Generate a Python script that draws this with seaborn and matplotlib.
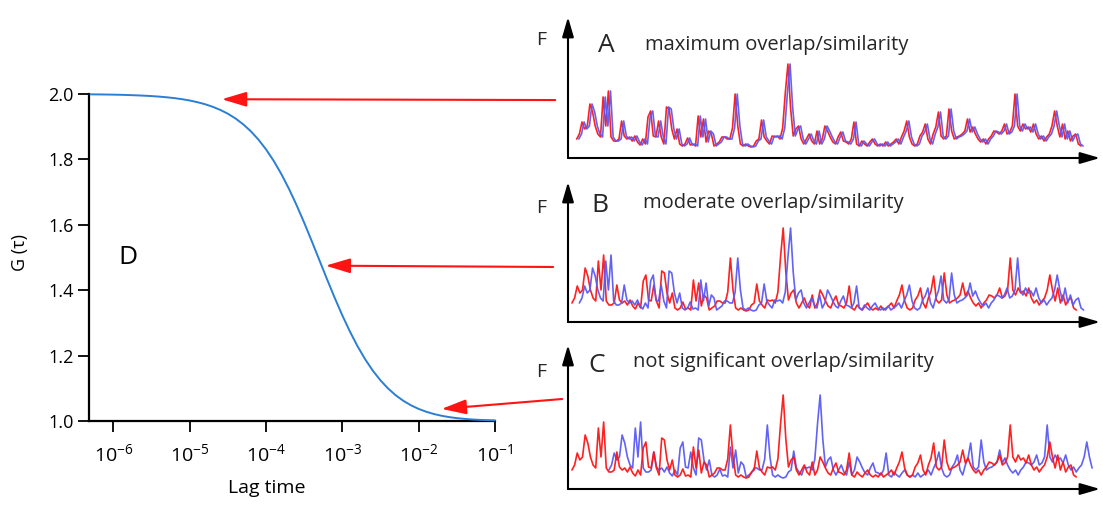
import matplotlib
matplotlib.use("Agg")
import numpy as np
import pandas as pd
import matplotlib.pyplot as plt
import seaborn as sns
from matplotlib.ticker import FixedLocator, NullLocator, FuncFormatter

# ---- autocorrelation curve G(tau) -------------------------------------
lag_exponent = [-6.3, -6.2, -6.1, -6.0, -5.9, -5.8, -5.7, -5.6, -5.5, -5.4,
                -5.3, -5.2, -5.1, -5.0, -4.9, -4.8, -4.7, -4.6, -4.5, -4.4,
                -4.3, -4.2, -4.1, -4.0, -3.9, -3.8, -3.7, -3.6, -3.5, -3.4,
                -3.3, -3.2, -3.1, -3.0, -2.9, -2.8, -2.7, -2.6, -2.5, -2.4,
                -2.3, -2.2, -2.1, -2.0, -1.9, -1.8, -1.7, -1.6, -1.5, -1.4,
                -1.3, -1.2, -1.1, -1.0]
g_tau = [1.9990, 1.9987, 1.9984, 1.9980, 1.9975, 1.9968, 1.9959, 1.9949, 1.9936, 1.9920,
         1.9899, 1.9874, 1.9841, 1.9801, 1.9750, 1.9688, 1.9610, 1.9514, 1.9396, 1.9251,
         1.9074, 1.8861, 1.8606, 1.8305, 1.7956, 1.7553, 1.7101, 1.6601, 1.6062, 1.5494,
         1.4912, 1.4330, 1.3764, 1.3227, 1.2731, 1.2281, 1.1883, 1.1536, 1.1241, 1.0992,
         1.0785, 1.0616, 1.0479, 1.0369, 1.0282, 1.0213, 1.0160, 1.0119, 1.0088, 1.0065,
         1.0047, 1.0034, 1.0025, 1.0018]

# ---- fluorescence trace F(t), channel 1; channel 2 is the same trace delayed
trace_red = [19, 24, 36, 29, 32, 54, 46, 32, 24, 21,
             61, 32, 67, 21, 17, 17, 19, 37, 22, 19,
             21, 17, 22, 16, 13, 19, 14, 41, 47, 22,
             21, 37, 21, 14, 51, 49, 29, 19, 29, 14,
             12, 14, 20, 13, 14, 12, 42, 21, 39, 16,
             27, 24, 12, 14, 16, 21, 21, 19, 19, 30,
             64, 32, 14,
             12, 14, 12, 11, 12, 17, 19, 38, 21, 17,
             14, 22, 21, 22, 19, 30, 65, 94, 50, 22,
             29, 32, 19, 14, 19, 24, 17, 14, 27, 14,
             19, 32, 27, 21, 16, 14, 21, 26, 17, 16,
             14, 19, 36, 14, 12, 17, 14, 12, 16, 19,
             14, 12, 14, 12, 16, 12, 14, 16, 19, 14,
             21, 27, 37, 21, 14, 12, 14,
             22, 26, 34, 19, 14, 24, 31, 46, 22, 19,
             22, 49, 27, 19, 21, 22, 24, 27, 39, 26,
             31, 24, 19, 16, 19, 14, 19, 22, 27, 26,
             24, 27, 34, 24, 26, 32, 64, 32, 27, 34,
             29, 31, 26, 34, 24, 19, 22, 17, 21, 24,
             32, 47, 32, 21, 34, 19, 27, 17, 22, 24,
             14, 12]

panel_letters = ["A", "B", "C"]
panel_titles = ["maximum overlap/similarity",
                "moderate overlap/similarity",
                "not significant overlap/similarity"]
panel_delay = [0.8, 2.8, 14.0]      # channel-2 delay, samples
panel_start = [1.8, 0.0, 0.0]       # recording start, samples
record_end = 197.8                  # channel 2 is recorded up to here
arrow_tau_exponent = [-4.58, -3.22, -1.70]
arrow_g = [1.984, 1.475, 1.037]

ytick_values = [1.0, 1.2, 1.4, 1.6, 1.8, 2.0]
xtick_exponents = [-6, -5, -4, -3, -2, -1]

# ---- style -------------------------------------------------------------
sns.set_theme(style="white")
plt.rcParams["font.family"] = ["Open Sans", "DejaVu Sans"]
plt.rcParams["mathtext.fontset"] = "custom"
plt.rcParams["mathtext.rm"] = "Open Sans"
plt.rcParams["mathtext.it"] = "Open Sans:italic"
plt.rcParams["mathtext.bf"] = "Open Sans:bold"

RED = "#ff1414"
BLUE = "#5a5af5"
CURVE = "#2a7fd4"

W, H = 1103, 512
fig = plt.figure(figsize=(W / 100, H / 100), dpi=100)
fig.patch.set_facecolor("white")


def box(x0, y0, x1, y1):
    """Pixel box measured from the top-left corner -> figure fraction rect."""
    return [x0 / W, 1 - y1 / H, (x1 - x0) / W, (y1 - y0) / H]


# ---- panel D: autocorrelation ------------------------------------------
ax = fig.add_axes(box(89, 94, 495, 421))
ax.set_xscale("log")
curve = pd.DataFrame({"lag": np.power(10.0, lag_exponent), "G": g_tau})
sns.lineplot(data=curve, x="lag", y="G", ax=ax, color=CURVE, lw=1.4,
             clip_on=False, zorder=3)
ax.set_xlim(10 ** -6.32, 10 ** -1)
ax.set_ylim(1.0, 2.0)
ax.xaxis.set_major_locator(FixedLocator([10.0 ** e for e in xtick_exponents]))
ax.xaxis.set_minor_locator(NullLocator())
ax.xaxis.set_major_formatter(
    FuncFormatter(lambda v, _: r"$10^{%d}$" % int(round(np.log10(v)))))
ax.yaxis.set_major_locator(FixedLocator(ytick_values))
ax.yaxis.set_major_formatter(FuncFormatter(lambda v, _: f"{v:.1f}"))
for s in ("top", "right"):
    ax.spines[s].set_visible(False)
for s in ("left", "bottom"):
    ax.spines[s].set_color("black")
    ax.spines[s].set_linewidth(1.6)
ax.tick_params(axis="both", which="major", direction="out", bottom=True,
               left=True, length=8, width=1.3, color="black",
               labelsize=13, labelcolor="black")
ax.tick_params(axis="x", pad=8, labelsize=14)
ax.tick_params(axis="y", pad=3)
ax.set_xlabel("Lag time", fontsize=14, color="black")
ax.xaxis.set_label_coords(0.438, -0.205)
ax.xaxis.label.set_va("center")
ax.set_ylabel("G (τ)", fontsize=13, color="black")
ax.yaxis.set_label_coords(-0.17, 0.514)
ax.yaxis.label.set_va("center")
ax.text(0.095, 0.5, "D", transform=ax.transAxes, fontsize=19,
        ha="center", va="center", color="black")

# ---- panels A, B, C: two-channel fluorescence traces -------------------
panel_boxes = [(568, 17, 1100, 158), (568, 182, 1100, 322),
               (568, 345, 1100, 489)]
label_pos = [((541, 40), (606, 45), (645, 45)),
             ((541, 208), (600, 205), (643, 203)),
             ((541, 372), (597, 366), (633, 362))]

samples = np.arange(len(trace_red))
values = np.array(trace_red, dtype=float)
panel_axes = []
for i, (x0, y0, x1, y1) in enumerate(panel_boxes):
    axp = fig.add_axes(box(x0, y0, x1, y1))
    axp.set_axis_off()
    axp.set_xlim(-1.5, 200)
    axp.set_ylim(0, y1 - y0)

    t_red = samples + panel_start[i]
    t_blue = samples + panel_start[i] + panel_delay[i]
    keep = t_blue <= record_end
    red_df = pd.DataFrame({"t": t_red, "F": values})
    blue_df = pd.DataFrame({"t": t_blue[keep], "F": values[keep]})
    if i == 2:
        order = [(blue_df, BLUE), (red_df, RED)]
    else:
        order = [(red_df, RED), (blue_df, BLUE)]
    for df, col in order:
        sns.lineplot(data=df, x="t", y="F", ax=axp, color=col, lw=1.2,
                     alpha=0.95)

    arrow_kw = dict(arrowstyle="-|>,head_length=1.2,head_width=0.35",
                    color="black", lw=1.5, mutation_scale=10,
                    shrinkA=0, shrinkB=0)
    axp.annotate("", xy=(0, 1), xytext=(0, 0), xycoords="axes fraction",
                 textcoords="axes fraction", arrowprops=arrow_kw)
    axp.annotate("", xy=(1, 0), xytext=(0, 0), xycoords="axes fraction",
                 textcoords="axes fraction", arrowprops=arrow_kw)

    (fx, fy), (lx, ly), (tx, ty) = label_pos[i]
    fig.text(fx / W, 1 - fy / H, "F", fontsize=14, ha="center", va="center")
    fig.text(lx / W, 1 - ly / H, panel_letters[i], fontsize=19,
             ha="center", va="center")
    fig.text(tx / W, 1 - ty / H, panel_titles[i], fontsize=14.5,
             ha="left", va="center")
    panel_axes.append(axp)

# arrows from each trace pair to its point on the autocorrelation curve
arrow_tails = [(-0.024, 0.411), (-0.028, 0.393), (-0.011, 0.625)]
for i, axp in enumerate(panel_axes):
    ax.annotate("", xy=(10 ** arrow_tau_exponent[i], arrow_g[i]),
                xycoords="data", xytext=arrow_tails[i],
                textcoords=axp.transAxes, annotation_clip=False,
                arrowprops=dict(arrowstyle="-|>,head_length=1.5,head_width=0.45",
                                color=RED, lw=1.5, mutation_scale=10,
                                shrinkA=0, shrinkB=0))

fig.savefig("out.png", dpi=100, facecolor="white")
